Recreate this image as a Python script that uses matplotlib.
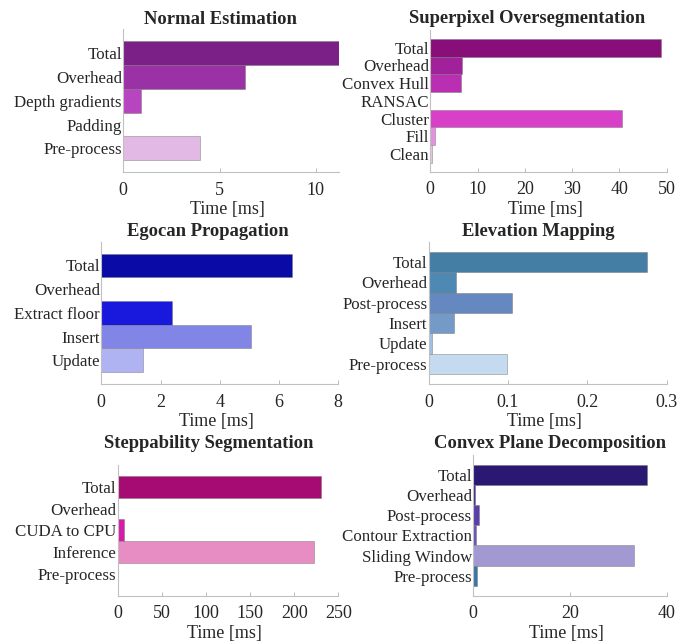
import matplotlib
matplotlib.use("Agg")
import matplotlib.pyplot as plt
import numpy as np

plt.rcParams['font.family'] = ['Liberation Serif', 'DejaVu Serif']
plt.rcParams['font.size'] = 12.2
plt.rcParams['text.color'] = '#262626'
plt.rcParams['axes.labelcolor'] = '#262626'
plt.rcParams['xtick.color'] = '#262626'
plt.rcParams['ytick.color'] = '#262626'

# data, labels listed top to bottom
normal_labels = ['Total', 'Overhead', 'Depth gradients', 'Padding', 'Pre-process']
normal_times = [11.19, 6.32, 0.90, 0.01, 3.96]
normal_colors = ['#7B2087', '#9A32A5', '#B845C0', '#CC7FD0', '#E2B9E4']

superpixel_labels = ['Total', 'Overhead', 'Convex Hull', 'RANSAC', 'Cluster', 'Fill', 'Clean']
superpixel_times = [48.7, 6.6, 6.4, 0.0, 40.6, 1.0, 0.4]
superpixel_colors = ['#880F7A', '#A0219A', '#BA2EB3', '#C93AC0', '#D940C8', '#E590DE', '#E9C3E7']

egocan_labels = ['Total', 'Overhead', 'Extract floor', 'Insert', 'Update']
egocan_times = [6.45, 0.0, 2.40, 5.05, 1.42]
egocan_colors = ['#0A0BA6', '#1010C0', '#1919DD', '#8185E6', '#B0B3F1']

elevation_labels = ['Total', 'Overhead', 'Post-process', 'Insert', 'Update', 'Pre-process']
elevation_times = [0.2757, 0.0348, 0.1055, 0.0323, 0.0046, 0.0983]
elevation_colors = ['#457EA5', '#4E89B4', '#6488BF', '#749BC8', '#9FC0E3', '#C4DAEE']

stepp_labels = ['Total', 'Overhead', 'CUDA to CPU', 'Inference', 'Pre-process']
stepp_times = [230.0, 0.0, 7.2, 222.4, 0.5]
stepp_colors = ['#A50B72', '#C01090', '#D71AA9', '#E78DC3', '#EEC0DC']

convex_labels = ['Total', 'Overhead', 'Post-process', 'Contour Extraction', 'Sliding Window', 'Pre-process']
convex_times = [35.9, 0.3, 1.25, 0.5, 33.25, 0.7]
convex_colors = ['#2A1872', '#3E2A90', '#5B3EAA', '#6C50B5', '#A299D3', '#3C74A3']

panels = [
    ('Normal Estimation', normal_labels, normal_times, normal_colors, (0, 11.2), [0, 5, 10]),
    ('Superpixel Oversegmentation', superpixel_labels, superpixel_times, superpixel_colors, (0, 50), [0, 10, 20, 30, 40, 50]),
    ('Egocan Propagation', egocan_labels, egocan_times, egocan_colors, (0, 8), [0, 2, 4, 6, 8]),
    ('Elevation Mapping', elevation_labels, elevation_times, elevation_colors, (0, 0.3), [0, 0.1, 0.2, 0.3]),
    ('Steppability Segmentation', stepp_labels, stepp_times, stepp_colors, (0, 250), [0, 50, 100, 150, 200, 250]),
    ('Convex Plane Decomposition', convex_labels, convex_times, convex_colors, (0, 40), [0, 20, 40]),
]

# layout in pixels: axes left, right, top, bottom, then title centre x, y
W, H = 692, 643
boxes = [
    (123.3, 339.0, 29.0, 172.3, 220.0, 19.0),
    (430.3, 666.7, 30.0, 171.7, 527.5, 19.0),
    (101.3, 338.3, 241.7, 384.0, 207.5, 232.0),
    (428.7, 666.7, 241.7, 384.0, 538.0, 231.0),
    (118.0, 338.3, 465.0, 595.7, 209.0, 444.0),
    (473.3, 666.7, 455.0, 595.7, 550.0, 443.0),
]

fig = plt.figure(figsize=(W / 100, H / 100), dpi=100)

for (title, labels, times, colors, xlim, xticks), (l, r, t, b, tx, ty) in zip(panels, boxes):
    ax = fig.add_axes([l / W, 1 - b / H, (r - l) / W, (b - t) / H])
    n = len(labels)
    pos = np.arange(1, n + 1)
    ax.barh(pos, times, height=1.0, color=colors, edgecolor=(0.45, 0.45, 0.45, 0.45), linewidth=0.7)
    ax.set_ylim(n + 1, 0)
    ax.set_xlim(*xlim)
    ax.set_yticks(pos)
    ax.set_yticklabels(labels, fontsize=12.2)
    ax.set_xticks(xticks)
    ax.set_xticklabels([('%g' % v) for v in xticks], fontsize=13)
    ax.tick_params(axis='y', length=0, pad=1)
    ax.tick_params(axis='x', direction='in', length=3, width=0.6, color='#b0b0b0', pad=7)
    for s in ['top', 'right']:
        ax.spines[s].set_visible(False)
    for s in ['left', 'bottom']:
        ax.spines[s].set_color('#c0c0c0')
        ax.spines[s].set_linewidth(0.8)
    ax.set_xlabel('Time [ms]', fontsize=13, labelpad=1.5, x=0.5 - 3.5 / (r - l))
    ax.set_title(title, fontweight='bold', fontsize=13.4, pad=0,
                 x=(tx - l) / (r - l), y=(b - ty) / (b - t), va='center')

fig.savefig('out.png', dpi=100)
